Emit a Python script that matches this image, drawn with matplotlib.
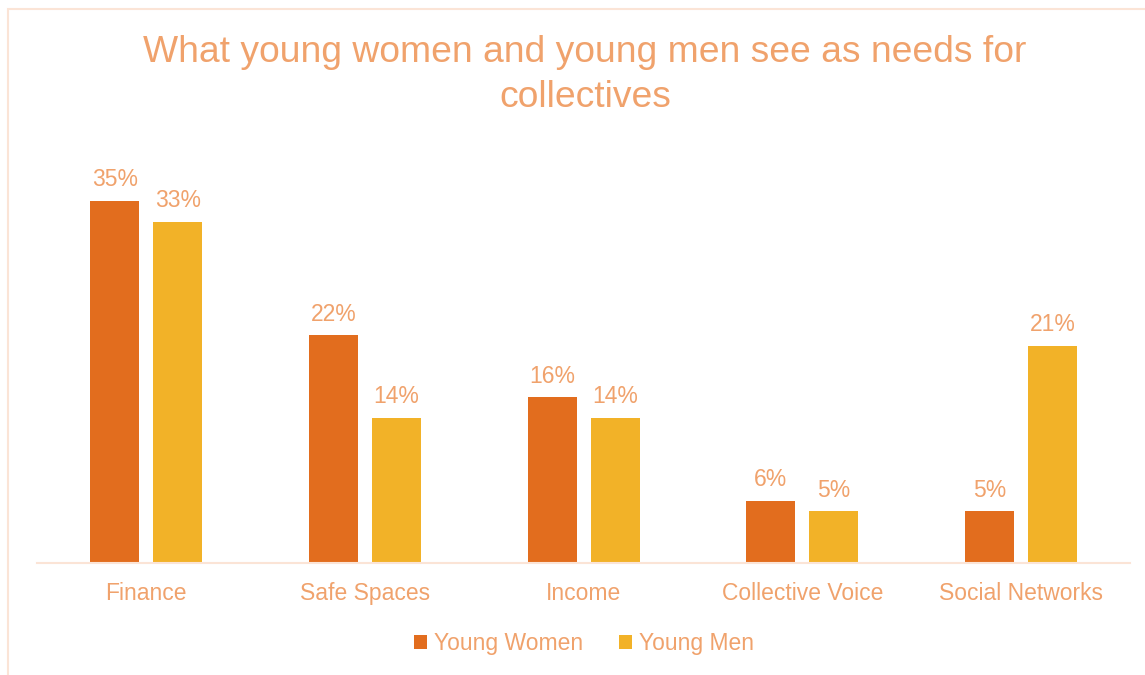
import numpy as np
import matplotlib.pyplot as plt
from matplotlib.patches import Rectangle

plt.rcParams['font.family'] = ['Liberation Sans', 'DejaVu Sans']

categories = ['Finance', 'Safe Spaces', 'Income', 'Collective Voice', 'Social Networks']
young_women = [35, 22, 16, 6, 5]
young_men = [33, 14, 14, 5, 21]

women_color = '#E26D1E'
men_color = '#F2B228'
text_color = '#F0A26C'
line_color = '#FBE4D6'

fig = plt.figure(figsize=(11.45, 6.75), dpi=100)
ax = fig.add_axes([0.0323, 0.166, 0.955, 0.613])

x = np.arange(len(categories))
w = 0.224
off = 0.144
b1 = ax.bar(x - off, young_women, w, color=women_color, label='Young Women')
b2 = ax.bar(x + off, young_men, w, color=men_color, label='Young Men')

for bars, vals in ((b1, young_women), (b2, young_men)):
    for bar, v in zip(bars, vals):
        ax.annotate(f'{v}%', (bar.get_x() + bar.get_width() / 2, v),
                    xytext=(0, 7), textcoords='offset points',
                    ha='center', va='bottom', fontsize=16.5, color=text_color)

ax.set_xlim(-0.5, len(categories) - 0.5)
ax.set_ylim(0, 40)
ax.set_xticks(x)
ax.set_xticklabels(categories, fontsize=16.5, color=text_color)
ax.tick_params(axis='x', length=0, pad=13.5)
ax.set_yticks([])
for side in ('top', 'right', 'left'):
    ax.spines[side].set_visible(False)
ax.spines['bottom'].set_color(line_color)
ax.spines['bottom'].set_linewidth(1.5)

fig.text(0.511, 0.889, 'What young women and young men see as needs for\ncollectives',
         ha='center', va='center', fontsize=26.8, color=text_color, linespacing=1.35)

fig.legend(handles=[b1, b2], loc='center', bbox_to_anchor=(0.51, 0.047), ncol=2,
           frameon=False, fontsize=16.5, labelcolor=text_color,
           handlelength=0.55, handleheight=0.55, handletextpad=0.3, columnspacing=1.6)

# outer chart frame, running off the right and bottom edges
fig.patches.append(Rectangle((0.007, -0.05), 1.1, 0.0367 + 1.0, transform=fig.transFigure,
                             fill=False, edgecolor=line_color, linewidth=1.5, clip_on=False))

fig.savefig('out.png', dpi=100, facecolor='white')
